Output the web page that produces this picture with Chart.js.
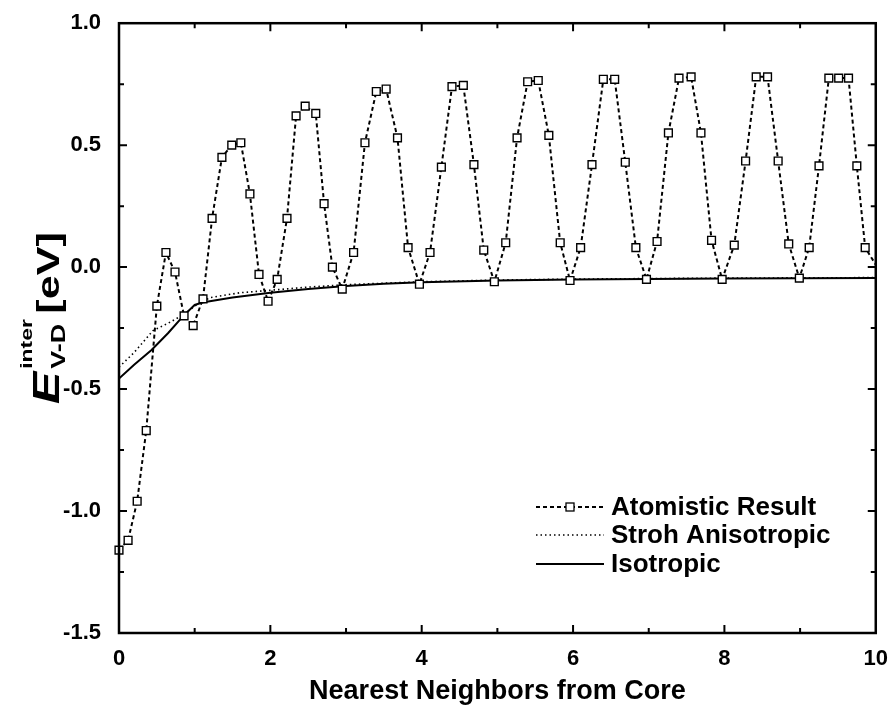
<!DOCTYPE html>
<html>
<head>
<meta charset="utf-8">
<script src="https://cdn.jsdelivr.net/npm/chart.js@4.4.1/dist/chart.umd.min.js"></script>
<style>
html, body { margin: 0; padding: 0; background: #fff; }
#wrap { width: 893px; height: 721px; }
</style>
</head>
<body>
<div id="wrap"><canvas id="chart" width="893" height="721"></canvas></div>
<script>
// atomistic result
const atomX = [0.00, 0.12, 0.24, 0.36, 0.50, 0.62, 0.74, 0.86, 0.98, 1.11, 1.23, 1.36, 1.49, 1.61, 1.73, 1.85, 1.97,
    2.09, 2.22, 2.34, 2.46, 2.60, 2.71, 2.82, 2.95, 3.10, 3.25, 3.40, 3.53, 3.68, 3.82, 3.97,
    4.11, 4.26, 4.40, 4.55, 4.69, 4.82, 4.96, 5.11, 5.26, 5.40, 5.54, 5.68, 5.83, 5.96,
    6.10, 6.25, 6.40, 6.55, 6.69, 6.83, 6.97, 7.11, 7.26, 7.40, 7.56, 7.69, 7.83, 7.97,
    8.13, 8.28, 8.42, 8.57, 8.71, 8.85, 8.99, 9.12, 9.25, 9.38, 9.51, 9.64, 9.75, 9.86, 10.10];
const atomY = [-1.16, -1.12, -0.96, -0.67, -0.16, 0.06, -0.02, -0.20, -0.24, -0.13, 0.20, 0.45, 0.50, 0.51, 0.30, -0.03, -0.14,
    -0.05, 0.20, 0.62, 0.66, 0.63, 0.26, 0.00, -0.09, 0.06, 0.51, 0.72, 0.73, 0.53, 0.08, -0.07,
    0.06, 0.41, 0.74, 0.745, 0.42, 0.07, -0.06, 0.10, 0.53, 0.76, 0.765, 0.54, 0.10, -0.055,
    0.08, 0.42, 0.77, 0.77, 0.43, 0.08, -0.05, 0.105, 0.55, 0.775, 0.78, 0.55, 0.11, -0.05,
    0.09, 0.435, 0.78, 0.78, 0.435, 0.095, -0.045, 0.08, 0.415, 0.775, 0.775, 0.775, 0.415, 0.08, -0.04];

// Stroh anisotropic
const strohX = [0.00, 0.20, 0.45, 0.65, 0.85, 1.00, 1.20, 1.60, 2.00, 2.50, 3.00, 4.00, 5.00, 6.00, 7.00, 8.00, 9.00, 10.00];
const strohY = [-0.41, -0.35, -0.26, -0.23, -0.195, -0.16, -0.125, -0.105, -0.095, -0.082, -0.072, -0.06, -0.053, -0.049, -0.047, -0.045, -0.044, -0.043];

// isotropic
const isoX = [0.00, 0.20, 0.43, 0.65, 0.85, 1.00, 1.10, 1.50, 2.00, 2.50, 3.00, 3.50, 4.00, 5.00, 6.00, 7.00, 8.00, 9.00, 10.00];
const isoY = [-0.457, -0.40, -0.34, -0.27, -0.20, -0.155, -0.145, -0.125, -0.105, -0.09, -0.077, -0.068, -0.062, -0.055, -0.051, -0.049, -0.047, -0.046, -0.045];

const seriesNames = ["Atomistic Result", "Stroh Anisotropic", "Isotropic"];
const xTickStep = 2;
const yTickStep = 0.5;

const FONT = "'Liberation Sans', Arial, sans-serif";

function pts(xs, ys) {
    return xs.map((x, i) => ({ x: x, y: ys[i] }));
}

// frame with inward ticks on all four sides
const framePlugin = {
    id: 'frame',
    afterDatasetsDraw(chart) {
        const ctx = chart.ctx;
        const a = chart.chartArea;
        const xs = chart.scales.x, ys = chart.scales.y;
        ctx.save();
        ctx.strokeStyle = '#000';
        ctx.lineWidth = 2.5;
        ctx.strokeRect(a.left, a.top, a.right - a.left, a.bottom - a.top);
        ctx.lineWidth = 2;
        ctx.beginPath();
        for (let v = 1; v < 10; v++) {
            const px = xs.getPixelForValue(v);
            const len = v % 2 === 0 ? 8 : 5;
            ctx.moveTo(px, a.bottom); ctx.lineTo(px, a.bottom - len);
            ctx.moveTo(px, a.top); ctx.lineTo(px, a.top + len);
        }
        for (let v = -1.25; v < 1.0; v += 0.25) {
            const py = ys.getPixelForValue(v);
            const len = Math.abs(v * 2 - Math.round(v * 2)) < 1e-6 ? 8 : 5;
            ctx.moveTo(a.left, py); ctx.lineTo(a.left + len, py);
            ctx.moveTo(a.right, py); ctx.lineTo(a.right - len, py);
        }
        ctx.stroke();
        ctx.restore();
    }
};

// legend inside the plot, lower right
const legendPlugin = {
    id: 'innerLegend',
    afterDraw(chart) {
        const ctx = chart.ctx;
        const rows = [507, 535, 564];
        const x0 = 536, x1 = 604, tx = 611;
        ctx.save();
        chart.data.datasets.forEach((ds, i) => {
            const y = rows[i];
            ctx.strokeStyle = '#000';
            ctx.lineWidth = ds.borderWidth;
            ctx.setLineDash(ds.borderDash || []);
            ctx.beginPath();
            ctx.moveTo(x0, y); ctx.lineTo(x1, y);
            ctx.stroke();
            ctx.setLineDash([]);
            if (ds.pointRadius > 0) {
                const s = 4;
                ctx.fillStyle = '#fff';
                ctx.fillRect((x0 + x1) / 2 - s, y - s, 2 * s, 2 * s);
                ctx.lineWidth = 1.3;
                ctx.strokeRect((x0 + x1) / 2 - s, y - s, 2 * s, 2 * s);
            }
            ctx.fillStyle = '#000';
            ctx.font = 'bold 26px ' + FONT;
            ctx.textBaseline = 'middle';
            ctx.textAlign = 'left';
            ctx.fillText(ds.label, tx, y + 1);
        });
        ctx.restore();
    }
};

// y axis title: E^inter_V-D [eV], rotated
const yTitlePlugin = {
    id: 'yTitle',
    afterDraw(chart) {
        const ctx = chart.ctx;
        ctx.save();
        ctx.translate(59, 318);
        ctx.rotate(-Math.PI / 2);
        ctx.scale(1.35, 1);
        ctx.fillStyle = '#000';
        ctx.textBaseline = 'alphabetic';
        ctx.textAlign = 'left';
        const fE = 'italic bold 36px ' + FONT;
        const fSup = 'bold 17px ' + FONT;
        const fSub = 'bold 20px ' + FONT;
        const fU = 'bold 32px ' + FONT;
        ctx.font = fE; const wE = ctx.measureText('E').width;
        ctx.font = fSup; const wSup = ctx.measureText('inter').width;
        ctx.font = fSub; const wSub = ctx.measureText('V-D').width;
        ctx.font = fU; const wU = ctx.measureText('[eV]').width;
        const total = wE + 2 + Math.max(wSup, wSub) + 4 + wU;
        let x = -total / 2;
        ctx.font = fE; ctx.fillText('E', x, 0);
        x += wE + 2;
        ctx.font = fSup; ctx.fillText('inter', x, -27);
        ctx.font = fSub; ctx.fillText('V-D', x, 6);
        x += Math.max(wSup, wSub) + 4;
        ctx.font = fU; ctx.fillText('[eV]', x, 0);
        ctx.restore();
    }
};

new Chart(document.getElementById('chart'), {
    type: 'scatter',
    data: {
        datasets: [{
            label: seriesNames[0],
            data: pts(atomX, atomY),
            showLine: true,
            borderColor: '#000',
            borderWidth: 2,
            borderDash: [4, 3],
            pointStyle: 'rect',
            pointRadius: 5.5,
            pointBorderWidth: 1.4,
            pointBackgroundColor: '#fff',
            pointBorderColor: '#000',
            clip: { left: 10, top: 0, right: 0, bottom: 0 }
        }, {
            label: seriesNames[1],
            data: pts(strohX, strohY),
            showLine: true,
            borderColor: '#000',
            borderWidth: 1.6,
            borderDash: [1.5, 3],
            pointRadius: 0
        }, {
            label: seriesNames[2],
            data: pts(isoX, isoY),
            showLine: true,
            borderColor: '#000',
            borderWidth: 2,
            pointRadius: 0
        }]
    },
    options: {
        responsive: false,
        animation: false,
        layout: { padding: { left: 0, right: 15, top: 20, bottom: 0 } },
        plugins: {
            legend: { display: false },
            tooltip: { enabled: false }
        },
        scales: {
            x: {
                type: 'linear',
                min: 0, max: 10,
                grid: { display: false },
                border: { display: false },
                ticks: {
                    stepSize: xTickStep,
                    color: '#000',
                    padding: 5,
                    font: { family: FONT, size: 22, weight: 'bold' }
                },
                title: {
                    display: true,
                    text: 'Nearest Neighbors from Core',
                    color: '#000',
                    padding: { top: 0, bottom: 13 },
                    font: { family: FONT, size: 27, weight: 'bold' }
                },
                afterFit(scale) { scale.height = 88; }
            },
            y: {
                type: 'linear',
                min: -1.5, max: 1.0,
                grid: { display: false },
                border: { display: false },
                ticks: {
                    stepSize: yTickStep,
                    color: '#000',
                    padding: 10,
                    font: { family: FONT, size: 22, weight: 'bold' },
                    callback: v => v.toFixed(1)
                },
                afterFit(scale) { scale.width = 119; }
            }
        }
    },
    plugins: [framePlugin, legendPlugin, yTitlePlugin]
});
</script>
</body>
</html>
